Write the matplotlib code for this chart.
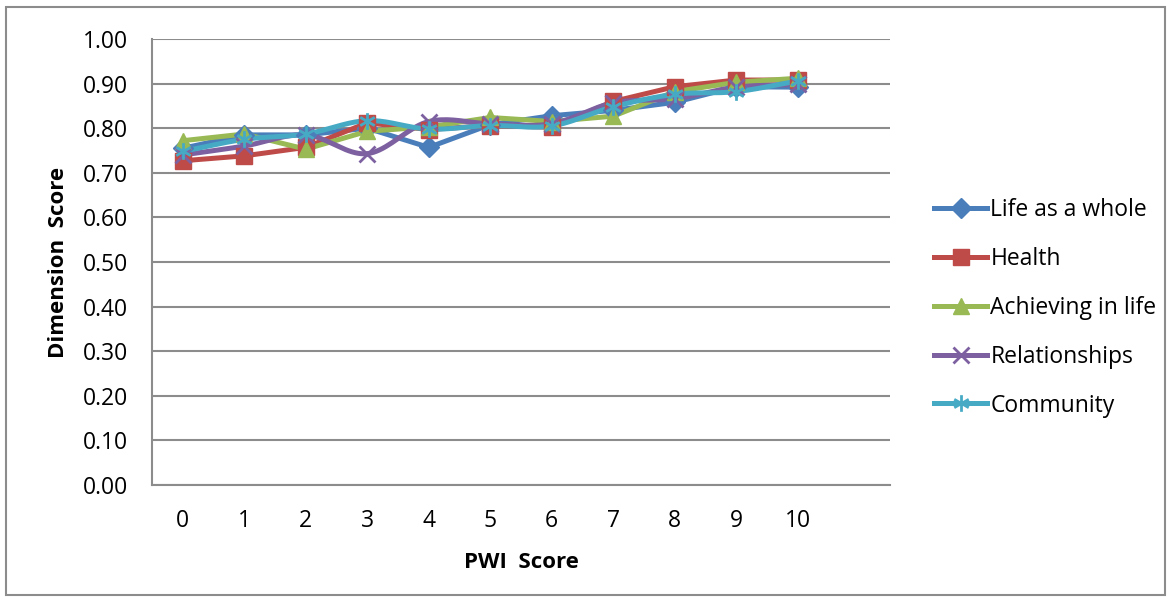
import numpy as np
import matplotlib
matplotlib.use('Agg')
import matplotlib.pyplot as plt
from matplotlib.path import Path
from matplotlib.patches import Rectangle

plt.rcParams['font.family'] = ['Open Sans', 'DejaVu Sans']

# data
pwi = [0, 1, 2, 3, 4, 5, 6, 7, 8, 9, 10]
life = [0.755, 0.785, 0.785, 0.80, 0.757, 0.808, 0.828, 0.84, 0.858, 0.893, 0.892]
health = [0.727, 0.738, 0.757, 0.812, 0.797, 0.806, 0.802, 0.86, 0.893, 0.908, 0.908]
achieving = [0.772, 0.787, 0.753, 0.793, 0.803, 0.824, 0.815, 0.827, 0.882, 0.903, 0.912]
relationships = [0.74, 0.76, 0.785, 0.743, 0.815, 0.81, 0.81, 0.857, 0.866, 0.892, 0.898]
community = [0.748, 0.775, 0.787, 0.817, 0.798, 0.806, 0.805, 0.848, 0.876, 0.882, 0.906]


def smooth(x, y, n=20):
    # catmull-rom curve through the points, like excel's smoothed line
    x = np.asarray(x, float)
    y = np.asarray(y, float)
    px = np.concatenate([[2 * x[0] - x[1]], x, [2 * x[-1] - x[-2]]])
    py = np.concatenate([[2 * y[0] - y[1]], y, [2 * y[-1] - y[-2]]])
    xs, ys = [], []
    t = np.linspace(0, 1, n, endpoint=False)
    for i in range(1, len(px) - 2):
        for p, out in ((px, xs), (py, ys)):
            p0, p1, p2, p3 = p[i - 1], p[i], p[i + 1], p[i + 2]
            out.extend(0.5 * (2 * p1 + (-p0 + p2) * t
                              + (2 * p0 - 5 * p1 + 4 * p2 - p3) * t ** 2
                              + (-p0 + 3 * p1 - 3 * p2 + p3) * t ** 3))
    xs.append(x[-1])
    ys.append(y[-1])
    return np.array(xs), np.array(ys)


star = Path([(0, -1), (0, 1), (-0.87, -0.5), (0.87, 0.5), (-0.87, 0.5), (0.87, -0.5)],
            [Path.MOVETO, Path.LINETO, Path.MOVETO, Path.LINETO, Path.MOVETO, Path.LINETO])

series = [
    ('Life as a whole', life, '#4A7EBB', 'D', 10, False),
    ('Health', health, '#BE4B48', 's', 11, False),
    ('Achieving in life', achieving, '#98B954', '^', 11, False),
    ('Relationships', relationships, '#7D60A0', 'x', 11, True),
    ('Community', community, '#46AAC5', star, 12, True),
]

fig = plt.figure(figsize=(11.71, 6.01), dpi=100)
ax = fig.add_axes([152 / 1171, 1 - 485 / 601, (890 - 152) / 1171, (485 - 39) / 601])

for name, vals, col, mk, ms, sm in series:
    if sm:
        sx, sy = smooth(pwi, vals)
    else:
        sx, sy = pwi, vals
    ax.plot(sx, sy, color=col, lw=3.6, solid_capstyle='round', zorder=3)
    ax.plot(pwi, vals, ls='none', marker=mk, ms=ms, color=col, mec=col,
            mew=2 if sm else 1, zorder=4)
    ax.plot([], [], color=col, lw=3.6, marker=mk, ms=ms, mec=col,
            mew=2 if sm else 1, label=name)

ax.set_xlim(-0.5, 11.5)
ax.set_ylim(0, 1)
ax.set_xticks(pwi)
ax.set_xticklabels([str(v) for v in pwi])
ax.set_yticks(np.arange(0, 1.01, 0.1))
ax.set_yticklabels([f'{v:.2f}' for v in np.arange(0, 1.01, 0.1)])
ax.tick_params(length=0, labelsize=16.5)
ax.tick_params(axis='x', pad=17)
ax.tick_params(axis='y', pad=17)
ax.grid(axis='y', color='#8c8c8c', lw=1.5)
ax.set_axisbelow(True)
for s in ['top', 'right']:
    ax.spines[s].set_visible(False)
for s in ['left', 'bottom']:
    ax.spines[s].set_color('#8c8c8c')
    ax.spines[s].set_linewidth(1.5)

ax.set_xlabel('PWI  Score', fontsize=16, fontweight='bold', labelpad=14)
ax.set_ylabel('Dimension  Score', fontsize=16, fontweight='bold', labelpad=10)

fig.legend(loc='center left', bbox_to_anchor=(925 / 1171, 1 - 308 / 601), frameon=False,
           fontsize=16.5, handlelength=2.3, handletextpad=0.15, labelspacing=1.08,
           borderaxespad=0)

fig.patches.append(Rectangle((6 / 1171, 6 / 601), 1159 / 1171, 588 / 601,
                             transform=fig.transFigure, fill=False,
                             edgecolor='#8c8c8c', lw=1.5))

fig.savefig('out.png', dpi=100)
